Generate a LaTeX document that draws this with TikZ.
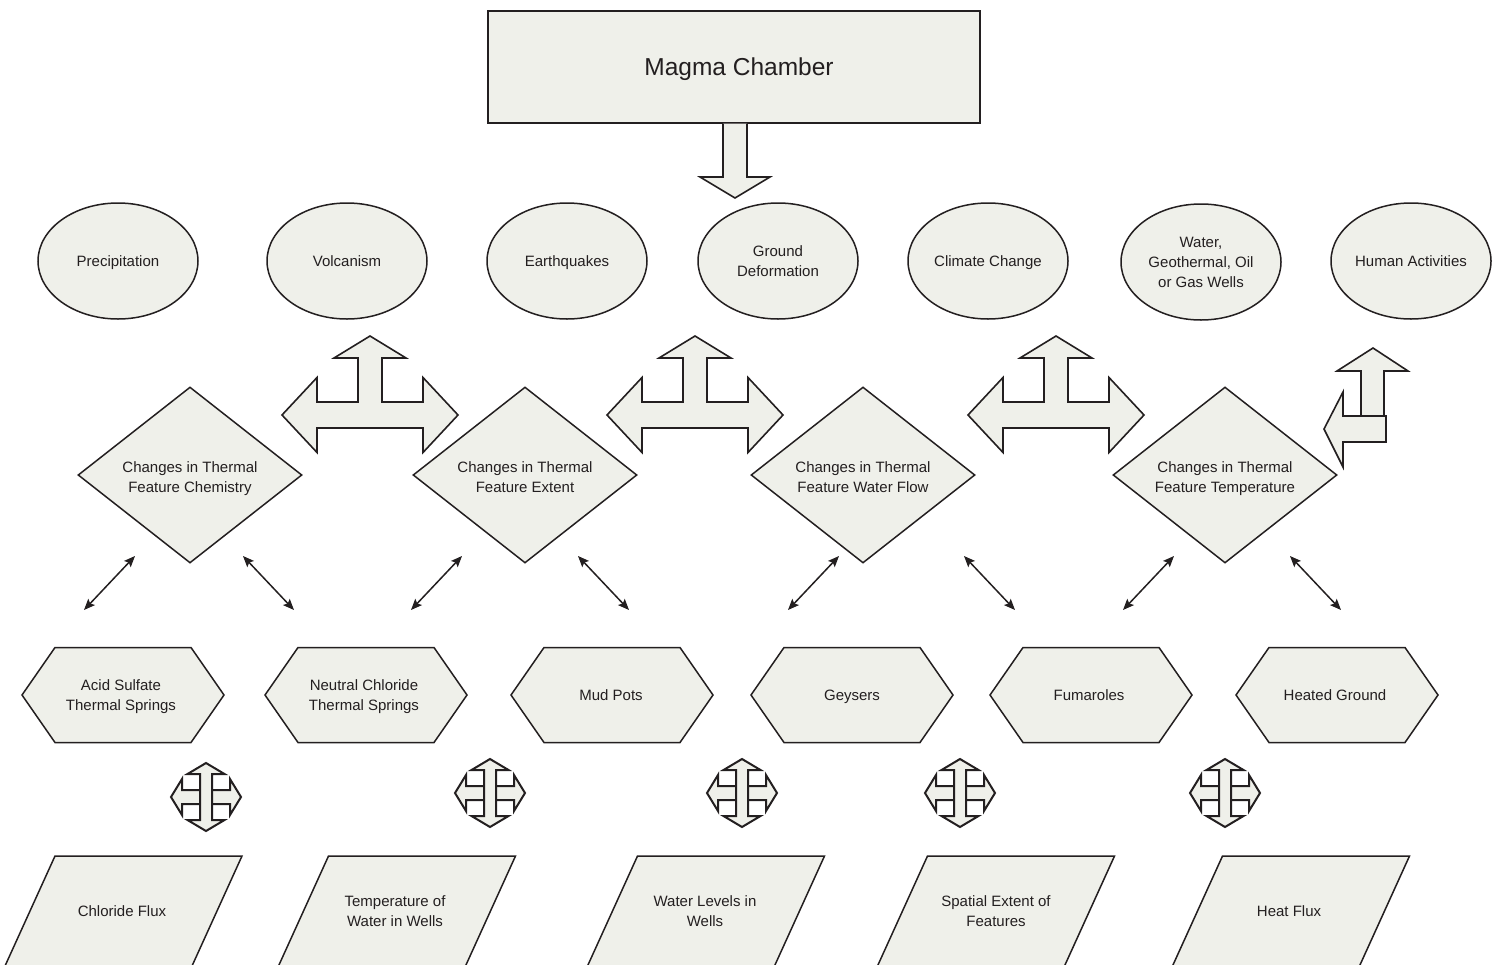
\documentclass[tikz,border=0pt]{standalone}
\usepackage{fontspec}
\setmainfont{Liberation Sans}
\usetikzlibrary{shapes.geometric,arrows.meta}
\definecolor{boxfill}{RGB}{239,240,234}
\definecolor{ink}{RGB}{35,31,32}
\tikzset{
  sh/.style={draw=ink, fill=boxfill, line width=1.5pt, line join=miter},
  bigarrow/.style={draw=ink, fill=boxfill, line width=1.6pt, line join=miter},
  crossarrow/.style={draw=ink, fill=boxfill, line width=2pt, line join=miter},
  txt/.style={font=\fontsize{15}{20}\selectfont, text=ink, align=center, inner sep=0pt, text depth=0pt},
  ell/.style={sh, ellipse, minimum width=160pt, minimum height=116pt, inner sep=0pt, txt},
  dia/.style={sh, diamond, aspect=1.27, minimum width=224pt, minimum height=176pt, inner sep=0pt, txt, text height=35pt},
  link/.style={draw=ink, line width=1.5pt, {Stealth[length=11pt,width=9pt,inset=2pt]}-{Stealth[length=11pt,width=9pt,inset=2pt]}}
}
\begin{document}
\begin{tikzpicture}[x=1pt,y=-1pt]
\useasboundingbox (0,0) rectangle (1502,964);
\clip (0,0) rectangle (1502,964);

% Magma chamber
\node[sh, minimum width=492pt, minimum height=112pt, inner sep=0pt, text depth=0pt,
      font=\fontsize{24.5}{29}\selectfont, text=ink] (magma) at (734,67) {\hspace{10pt}Magma Chamber};
\draw[bigarrow] (723,123.5) -- (723,177) -- (700,177) -- (735,198) -- (770,177) -- (747,177) -- (747,123.5);

% Ellipses
\node[ell] (precip) at (118,261) {Precipitation};
\node[ell] (volc) at (347,261) {Volcanism};
\node[ell] (quake) at (567,261) {Earthquakes};
\node[ell] (ground) at (778,261) {Ground\\Deformation};
\node[ell] (climate) at (988,261) {Climate Change};
\node[ell] (wells) at (1201,262) {Water,\\Geothermal, Oil\\or Gas Wells};
\node[ell] (human) at (1411,261) {Human Activities};

% T-shaped block arrows
\foreach \cx in {370,695,1056}{
  \draw[bigarrow, shift={(\cx,415)}]
    (-88,0) -- (-53,-37.5) -- (-53,-13) -- (-12,-13) -- (-12,-57) -- (-36,-57) -- (0,-79)
    -- (36,-57) -- (12,-57) -- (12,-13) -- (53,-13) -- (53,-37.5) -- (88,0)
    -- (53,37.5) -- (53,13) -- (-53,13) -- (-53,37.5) -- cycle;
}
% Bent arrow
\draw[bigarrow] (1361,416) -- (1361,371) -- (1337,371) -- (1373,348) -- (1408,371) -- (1384,371) -- (1384,416) -- cycle;
\draw[bigarrow] (1386,416) -- (1343,416) -- (1343,392) -- (1324,429) -- (1343,467) -- (1343,442) -- (1386,442) -- cycle;

% Diamonds
\node[dia] (chem) at (190,475) {Changes in Thermal\\Feature Chemistry};
\node[dia] (extent) at (525,475) {Changes in Thermal\\Feature Extent};
\node[dia] (flow) at (863,475) {Changes in Thermal\\Feature Water Flow};
\node[dia] (temp) at (1225,475) {Changes in Thermal\\Feature Temperature};

% Hexagons
\foreach \cx in {123,366,612,852,1091,1337}{
  \draw[sh, shift={(\cx,695)}] (-101,0) -- (-68,-47.5) -- (68,-47.5) -- (101,0) -- (68,47.5) -- (-68,47.5) -- cycle;
}
\node[txt] (acid) at (121,695) {Acid Sulfate\\Thermal Springs};
\node[txt] (neutral) at (364,695) {Neutral Chloride\\Thermal Springs};
\node[txt] (mud) at (611,695) {Mud Pots};
\node[txt] (geysers) at (852,695) {Geysers};
\node[txt] (fumaroles) at (1089,695) {Fumaroles};
\node[txt] (heated) at (1335,695) {Heated Ground};

% Thin double arrows
\coordinate (a1s) at (135,556); \coordinate (a1e) at (84,610);
\coordinate (a2s) at (243,556); \coordinate (a2e) at (294,610);
\coordinate (a3s) at (462,556); \coordinate (a3e) at (411,610);
\coordinate (a4s) at (578,556); \coordinate (a4e) at (629,610);
\coordinate (a5s) at (839,556); \coordinate (a5e) at (788,610);
\coordinate (a6s) at (964,556); \coordinate (a6e) at (1015,610);
\coordinate (a7s) at (1174,556); \coordinate (a7e) at (1123,610);
\coordinate (a8s) at (1290,556); \coordinate (a8e) at (1341,610);
\foreach \i in {1,...,8}{ \draw[link] (a\i s) -- (a\i e); }

% Four-way arrows
\foreach \cx/\cy in {206/797,490/793,742/793,960/793,1225/793}{
  \draw[crossarrow, shift={(\cx,\cy)}]
    (-35,0) -- (-24,-18) -- (-24,-7) -- (24,-7) -- (24,-18) -- (35,0)
    -- (24,18) -- (24,7) -- (-24,7) -- (-24,18) -- cycle;
  \draw[crossarrow, shift={(\cx,\cy)}]
    (0,-34) -- (18.5,-23) -- (6,-23) -- (6,23) -- (18.5,23) -- (0,34)
    -- (-18.5,23) -- (-6,23) -- (-6,-23) -- (-18.5,-23) -- cycle;
}

% Parallelograms
\foreach \cx in {123.5,397,706,996,1291}{
  \draw[sh, shift={(\cx,911)}] (-68.5,-55) -- (118.5,-55) -- (68.5,55) -- (-118.5,55) -- cycle;
}
\node[txt] (chloride) at (122,911) {Chloride Flux};
\node[txt] (tempwells) at (395,911) {Temperature of\\Water in Wells};
\node[txt] (levels) at (705,911) {Water Levels in\\Wells};
\node[txt] (spatial) at (996,911) {Spatial Extent of\\Features};
\node[txt] (heatflux) at (1289,911) {Heat Flux};
\end{tikzpicture}
\end{document}
